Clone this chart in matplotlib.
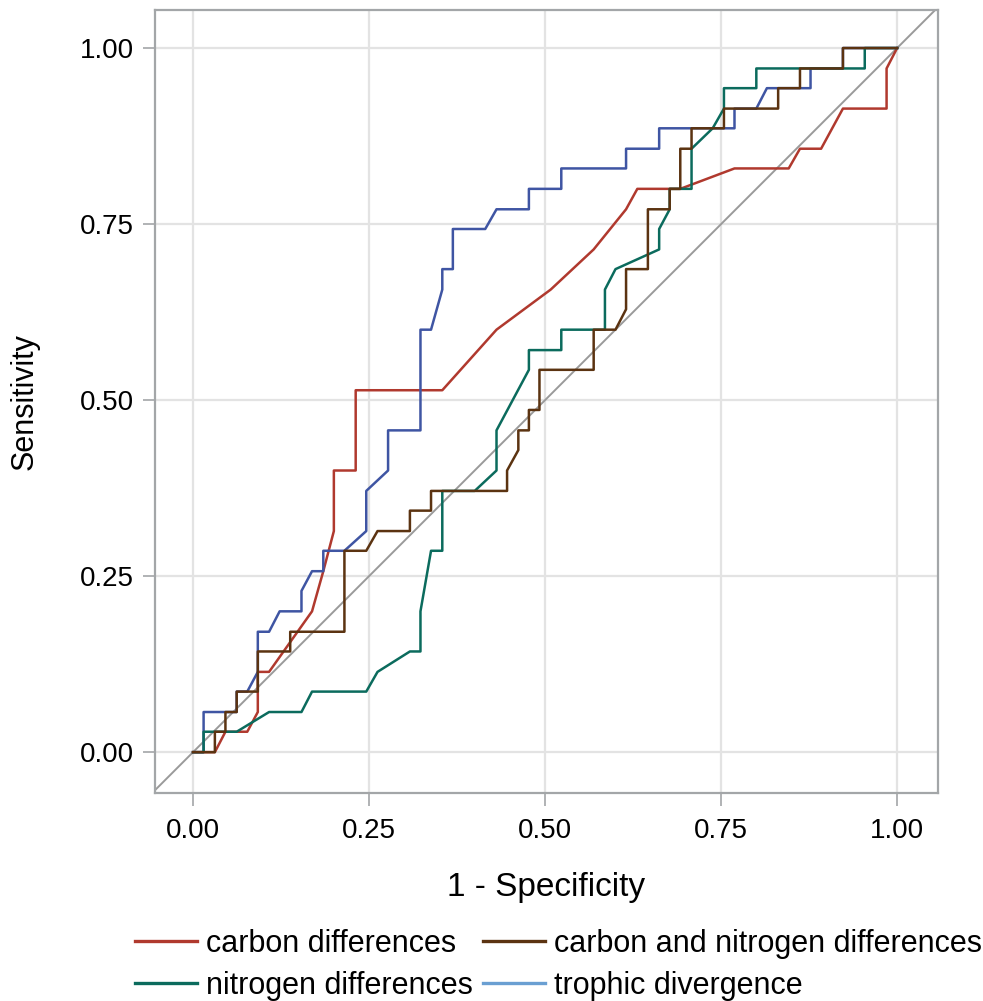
import matplotlib
matplotlib.use("Agg")
import matplotlib.pyplot as plt
from matplotlib.lines import Line2D

# ROC curves (1 - specificity, sensitivity)
carbon_fpr = [0, 0.031, 0.046, 0.077, 0.092, 0.092, 0.108, 0.169, 0.185, 0.2, 0.2, 0.231, 0.231,
              0.354, 0.431, 0.508, 0.569, 0.615, 0.631, 0.692, 0.769, 0.846, 0.862, 0.892, 0.923,
              0.985, 0.985, 1]
carbon_tpr = [0, 0, 0.029, 0.029, 0.057, 0.114, 0.114, 0.2, 0.257, 0.314, 0.4, 0.4, 0.514,
              0.514, 0.6, 0.657, 0.714, 0.771, 0.8, 0.8, 0.829, 0.829, 0.857, 0.857, 0.914,
              0.914, 0.971, 1]

nitrogen_fpr = [0, 0.015, 0.015, 0.062, 0.108, 0.154, 0.169, 0.246, 0.262, 0.308, 0.323, 0.323,
                0.338, 0.354, 0.354, 0.4, 0.431, 0.431, 0.477, 0.477, 0.523, 0.523, 0.585, 0.585,
                0.6, 0.662, 0.662, 0.677, 0.677, 0.708, 0.708, 0.738, 0.754, 0.754, 0.8, 0.8,
                0.954, 0.954, 1]
nitrogen_tpr = [0, 0, 0.029, 0.029, 0.057, 0.057, 0.086, 0.086, 0.114, 0.143, 0.143, 0.2,
                0.286, 0.286, 0.371, 0.371, 0.4, 0.457, 0.543, 0.571, 0.571, 0.6, 0.6, 0.657,
                0.686, 0.714, 0.743, 0.771, 0.8, 0.8, 0.857, 0.886, 0.914, 0.943, 0.943, 0.971,
                0.971, 1, 1]

cn_fpr = [0, 0.031, 0.031, 0.046, 0.046, 0.062, 0.062, 0.092, 0.092, 0.138, 0.138, 0.215, 0.215,
          0.246, 0.262, 0.308, 0.308, 0.338, 0.338, 0.446, 0.446, 0.462, 0.462, 0.477, 0.477,
          0.492, 0.492, 0.569, 0.569, 0.6, 0.615, 0.615, 0.646, 0.646, 0.677, 0.677, 0.692,
          0.692, 0.708, 0.708, 0.754, 0.754, 0.831, 0.831, 0.862, 0.862, 0.923, 0.923, 1]
cn_tpr = [0, 0, 0.029, 0.029, 0.057, 0.057, 0.086, 0.086, 0.143, 0.143, 0.171, 0.171, 0.286,
          0.286, 0.314, 0.314, 0.343, 0.343, 0.371, 0.371, 0.4, 0.429, 0.457, 0.457, 0.486,
          0.486, 0.543, 0.543, 0.6, 0.6, 0.629, 0.686, 0.686, 0.771, 0.771, 0.8, 0.8,
          0.857, 0.857, 0.886, 0.886, 0.914, 0.914, 0.943, 0.943, 0.971, 0.971, 1, 1]

trophic_fpr = [0, 0.015, 0.015, 0.062, 0.062, 0.077, 0.092, 0.092, 0.108, 0.123, 0.154, 0.154,
               0.169, 0.185, 0.185, 0.215, 0.246, 0.246, 0.277, 0.277, 0.323, 0.323, 0.338,
               0.354, 0.354, 0.369, 0.369, 0.415, 0.431, 0.477, 0.477, 0.523, 0.523, 0.615,
               0.615, 0.662, 0.662, 0.769, 0.769, 0.8, 0.815, 0.877, 0.877, 0.923, 0.923, 1]
trophic_tpr = [0, 0, 0.057, 0.057, 0.086, 0.086, 0.114, 0.171, 0.171, 0.2, 0.2, 0.229, 0.257,
               0.257, 0.286, 0.286, 0.314, 0.371, 0.4, 0.457, 0.457, 0.6, 0.6, 0.657, 0.686,
               0.686, 0.743, 0.743, 0.771, 0.771, 0.8, 0.8, 0.829, 0.829, 0.857, 0.857, 0.886,
               0.886, 0.914, 0.914, 0.943, 0.943, 0.971, 0.971, 1, 1]

ticks = [0, 0.25, 0.5, 0.75, 1]
tick_labels = ["0.00", "0.25", "0.50", "0.75", "1.00"]

RED = "#b0392e"
TEAL = "#0b6b5d"
BROWN = "#5b3311"
BLUE = "#3f55a3"
LIGHT_BLUE = "#6a9fd2"
GREY = "#a3a6a8"

plt.rcParams["font.family"] = ["Liberation Sans", "DejaVu Sans"]

fig = plt.figure(figsize=(9.83, 10.01), dpi=100)
ax = fig.add_axes([0.1577, 0.2078, 0.7965, 0.7822])

ax.plot([-0.1, 1.1], [-0.1, 1.1], color="#9a9a9a", lw=1.4, zorder=1)
ax.plot(carbon_fpr, carbon_tpr, color=RED, lw=1.8, zorder=2)
ax.plot(trophic_fpr, trophic_tpr, color=BLUE, lw=1.8, zorder=3)
ax.plot(nitrogen_fpr, nitrogen_tpr, color=TEAL, lw=1.8, zorder=4)
ax.plot(cn_fpr, cn_tpr, color=BROWN, lw=1.8, zorder=5)

ax.set_xlim(-0.054, 1.058)
ax.set_ylim(-0.058, 1.054)
ax.set_xticks(ticks)
ax.set_xticklabels(tick_labels)
ax.set_yticks(ticks)
ax.set_yticklabels(tick_labels)
ax.grid(True, color="#e3e3e3", lw=1.6)
ax.set_axisbelow(True)
for s in ax.spines.values():
    s.set_color(GREY)
    s.set_linewidth(1.6)
ax.tick_params(length=9, width=1.2, color=GREY, labelsize=20)
ax.tick_params(axis="x", pad=9)
ax.tick_params(axis="y", pad=6)

ax.set_xlabel("1 - Specificity", fontsize=24)
ax.set_ylabel("Sensitivity", fontsize=22)
ax.xaxis.set_label_coords(0.5, -0.101)
ax.yaxis.set_label_coords(-0.147, 0.5)

handles = [Line2D([], [], color=RED, lw=2.4),
           Line2D([], [], color=TEAL, lw=2.4),
           Line2D([], [], color=BROWN, lw=2.4),
           Line2D([], [], color=LIGHT_BLUE, lw=2.4)]
labels = ["carbon differences", "nitrogen differences",
          "carbon and nitrogen differences", "trophic divergence"]
fig.legend(handles, labels, ncol=2, frameon=False, loc="upper left",
           bbox_to_anchor=(0.137, 0.072), prop={"size": 22},
           handlelength=2.05, handletextpad=0.3, columnspacing=0.3,
           labelspacing=0.38, borderaxespad=0, borderpad=0)

fig.savefig("out.png", dpi=100)
